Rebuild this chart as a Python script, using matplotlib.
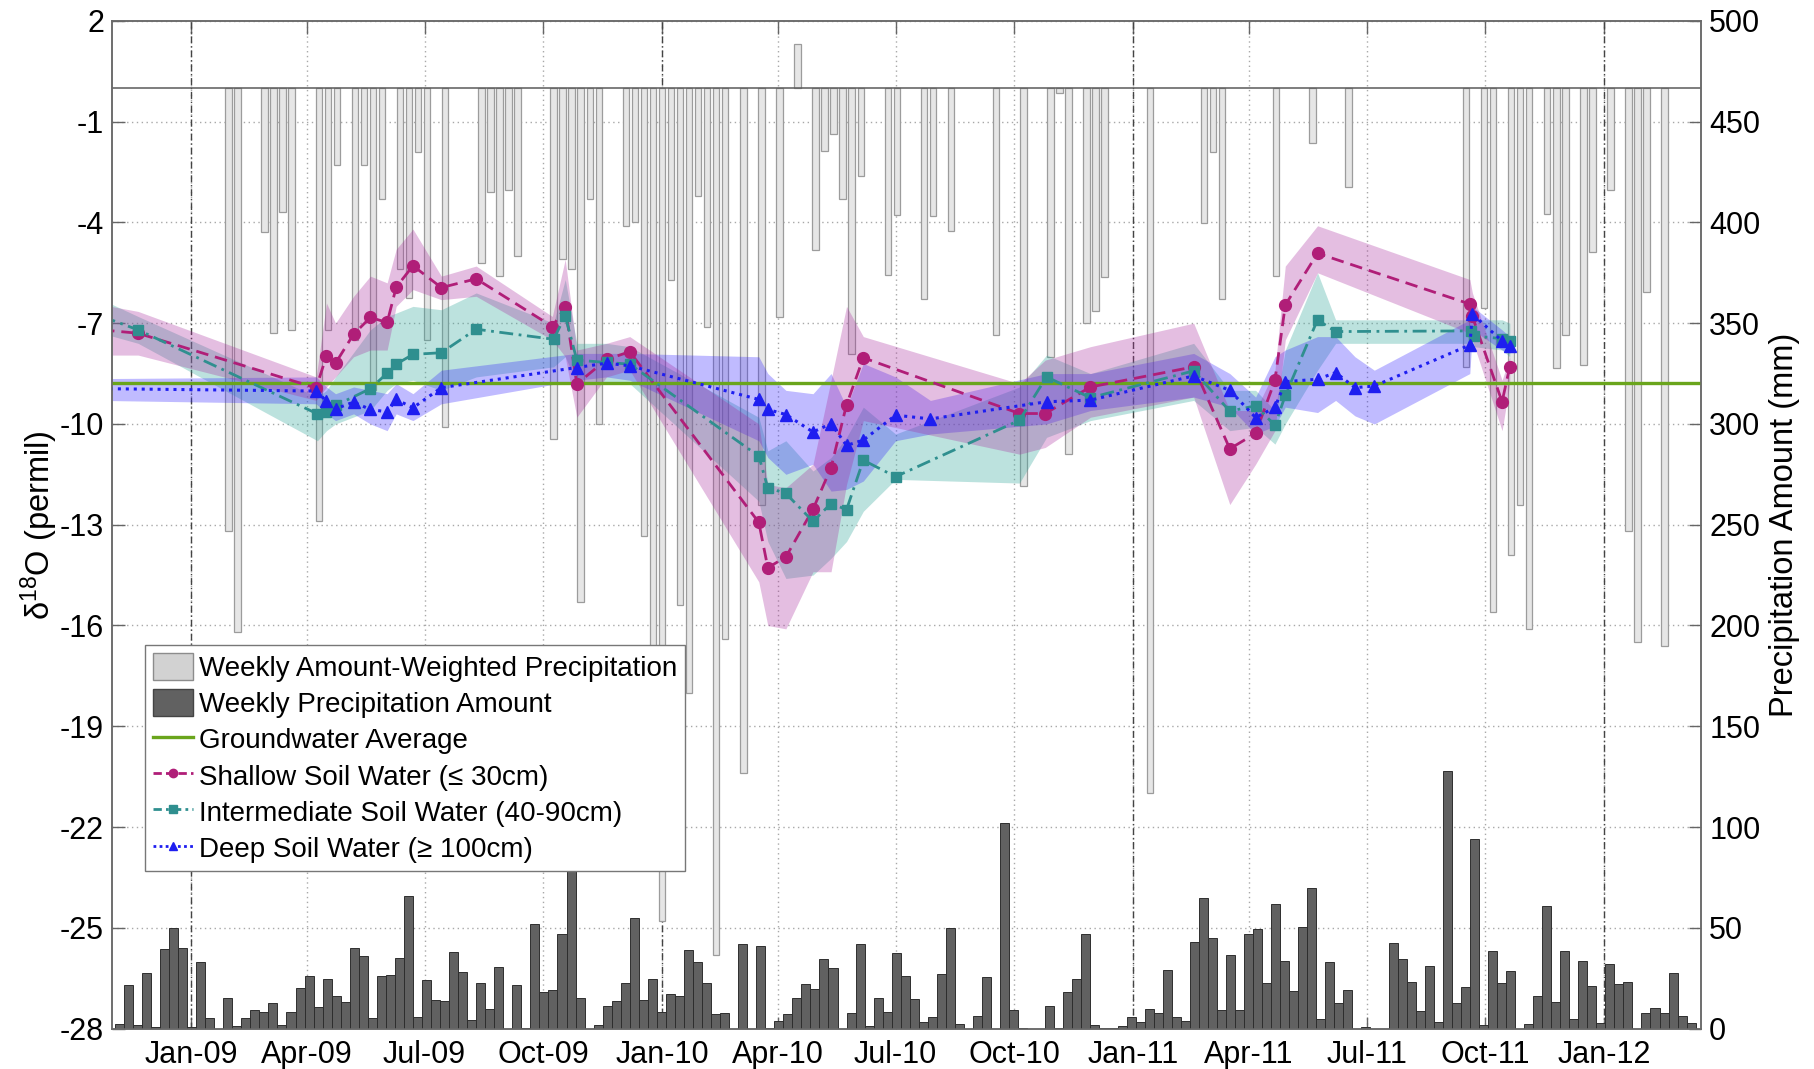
import numpy as np
import pandas as pd
import matplotlib
matplotlib.use('Agg')
import matplotlib.pyplot as plt
import matplotlib.dates as mdates
from matplotlib.patches import Patch
from matplotlib.lines import Line2D

plt.rcParams['font.family'] = ['Liberation Sans', 'DejaVu Sans']
plt.rcParams['axes.unicode_minus'] = False
plt.rcParams['mathtext.default'] = 'regular'

# ---------------- data ----------------
week_start = '2008-11-03'
precip_mm = [2.5, 21.5, 1.7, 27.6, 1, 39.7, 50, 40, 1, 33, 5.3, 0, 15, 1.3, 5.3, 9, 8, 12.7, 1.7, 8,
             20, 26, 10.6, 24.7, 16, 13, 40, 36, 5.5, 26, 26.8, 35, 66, 5.8, 24.3, 14.4, 13.6, 38, 28, 4.5,
             22.8, 9.6, 30.5, 0, 21.8, 0.5, 52, 18, 19, 47, 80, 15, 0, 2, 11.4, 13.6, 22.7, 55, 14.4, 24.8,
             8, 17.4, 16, 39, 33, 22.5, 7, 7.5, 0, 42, 0, 41, 0.3, 3.8, 7, 15, 22, 19.5, 34.6, 30,
             0, 7.8, 42, 1.2, 15, 8, 37.6, 26, 14.6, 3.3, 5.6, 27, 50, 2.3, 0, 6, 25.5, 0, 102, 9,
             0.5, 0, 0, 11, 0.3, 18, 24.7, 47, 1.7, 0.3, 0.3, 1.3, 5.6, 3.3, 9.8, 7.8, 29, 5.8, 3.8, 43,
             65, 45, 9, 36.4, 9, 47, 49.5, 22.4, 62, 33.4, 18.5, 50.5, 70, 4.8, 32.8, 12.7, 19.2, 0, 0.8, 0,
             0, 42.7, 34.3, 23.2, 8.8, 31, 3.3, 128, 12.7, 20.7, 94, 2, 38.6, 22.8, 28.6, 0, 2.3, 16, 61, 13.2,
             38.6, 4.6, 33.3, 21.2, 2.6, 32, 22.2, 23.2, 0, 7.5, 10, 7.8, 27.8, 6.1, 2.8]

gray_week = [13, 14, 17, 18, 19, 20, 23, 24, 25, 27, 28, 29, 30, 32, 33, 34, 35, 37, 41, 42,
             43, 44, 45, 49, 50, 51, 52, 53, 54, 57, 58, 59, 60, 61, 62, 63, 64, 65, 66, 67,
             68, 70, 72, 74, 76, 78, 79, 80, 81, 82, 83, 86, 87, 90, 91, 93, 98, 101, 104, 105,
             106, 108, 109, 110, 115, 121, 122, 123, 129, 133, 137, 150, 152, 153, 155, 156, 157, 159, 160, 161,
             163, 164, 166, 168, 169, 170, 172]
gray_d18o = [-13.2, -16.2, -4.3, -7.3, -3.7, -7.2, -12.9, -7.2, -2.3, -7.5, -2.3, -9.0, -3.3, -5.4, -6.25, -1.9, -7.5, -10.1, -5.2, -3.1,
             -5.6, -3.05, -5.0, -10.45, -5.1, -5.4, -15.3, -3.3, -10.0, -4.1, -4.0, -13.35, -17.5, -24.8, -5.7, -15.4, -18.0, -3.2, -7.1, -25.8,
             -16.4, -20.4, -12.4, -6.83, 1.3, -4.82, -1.88, -1.38, -3.29, -7.93, -2.63, -5.57, -3.77, -6.29, -3.8, -4.27, -7.34, -11.84, -8.0, -0.15,
             -10.9, -7.0, -6.64, -5.64, -21.0, -4.03, -1.91, -6.29, -5.6, -1.63, -2.96, -8.3, -6.55, -15.6, -13.9, -12.4, -16.1, -3.76, -8.33, -7.35,
             -8.24, -4.87, -3.04, -13.2, -16.5, -6.08, -16.6]

shallow_dates = ['2008-10-24', '2008-11-21', '2009-04-08', '2009-04-16', '2009-04-23', '2009-05-07', '2009-05-20',
                 '2009-06-02', '2009-06-09', '2009-06-22', '2009-07-14', '2009-08-10', '2009-10-08', '2009-10-18',
                 '2009-10-27', '2009-11-19', '2009-12-07', '2010-03-17', '2010-03-24', '2010-04-07', '2010-04-28',
                 '2010-05-12', '2010-05-24', '2010-06-06', '2010-10-05', '2010-10-25', '2010-11-29', '2011-02-17',
                 '2011-03-17', '2011-04-06', '2011-04-21', '2011-04-29', '2011-05-24', '2011-09-19', '2011-09-21',
                 '2011-10-14', '2011-10-20']
shallow_val = [-7.2, -7.30, -8.93, -7.97, -8.19, -7.33, -6.83, -6.98, -5.93, -5.29, -5.94, -5.68, -7.10, -6.53,
               -8.81, -8.08, -7.85, -12.93, -14.28, -13.96, -12.54, -11.3, -9.43, -8.03, -9.69, -9.69, -8.9, -8.3,
               -10.74, -10.28, -8.70, -6.46, -4.92, -6.43, -6.80, -9.34, -8.29]
shallow_hi = [-6.45, -6.65, -8.6, -6.4, -7.0, -6.2, -5.6, -5.8, -4.8, -4.2, -5.6, -5.3, -6.8, -5.1,
              -7.8, -7.6, -7.4, -10.0, -11.8, -11.9, -11.2, -8.7, -6.5, -7.4, -8.8, -8.1, -7.7, -7.0,
              -9.6, -9.6, -8.4, -5.3, -4.1, -5.7, -6.1, -8.7, -8.0]
shallow_lo = [-7.95, -7.95, -9.3, -8.9, -8.6, -8.0, -7.8, -7.8, -6.5, -6.0, -6.3, -6.2, -7.5, -8.0,
              -9.8, -8.6, -8.4, -14.7, -16.0, -16.1, -14.4, -14.4, -11.8, -9.9, -10.9, -10.7, -9.8, -9.2,
              -12.4, -11.2, -10.2, -7.5, -5.5, -7.3, -7.5, -10.2, -8.8]

inter_dates = ['2008-10-24', '2008-11-21', '2009-04-09', '2009-04-16', '2009-04-23', '2009-05-20', '2009-06-02',
               '2009-06-09', '2009-06-22', '2009-07-14', '2009-08-10', '2009-10-09', '2009-10-18', '2009-10-27',
               '2009-11-19', '2009-12-07', '2010-03-17', '2010-03-24', '2010-04-07', '2010-04-28', '2010-05-12',
               '2010-05-24', '2010-06-06', '2010-07-01', '2010-10-05', '2010-10-26', '2010-11-29', '2011-02-17',
               '2011-03-17', '2011-04-06', '2011-04-21', '2011-04-29', '2011-05-24', '2011-06-07', '2011-09-20',
               '2011-09-22', '2011-10-14', '2011-10-20']
inter_val = [-6.8, -7.2, -9.70, -9.64, -9.45, -8.95, -8.49, -8.22, -7.93, -7.88, -7.18, -7.48, -6.78, -8.10,
             -8.17, -8.22, -10.96, -11.9, -12.07, -12.9, -12.37, -12.55, -11.08, -11.57, -9.89, -8.6, -9.22, -8.42,
             -9.62, -9.46, -10.04, -9.15, -6.9, -7.25, -7.23, -7.38, -7.46, -7.53]
inter_hi = [-6.3, -6.8, -9.2, -9.0, -8.6, -7.2, -6.8, -6.7, -6.5, -6.6, -6.1, -7.0, -5.7, -7.6,
            -7.6, -7.7, -9.8, -10.8, -10.5, -11.4, -11.0, -10.4, -9.5, -10.3, -8.9, -7.95, -8.5, -7.6,
            -9.0, -9.0, -9.6, -7.8, -5.5, -6.9, -6.9, -6.9, -6.9, -7.0]
inter_lo = [-7.3, -7.6, -10.5, -10.2, -10.0, -9.6, -9.0, -8.8, -8.7, -9.0, -8.6, -8.3, -8.0, -8.8,
            -8.8, -8.8, -12.3, -13.5, -14.6, -14.5, -14.0, -13.5, -12.6, -11.65, -11.76, -10.4, -9.9, -9.3,
            -10.2, -10.1, -10.6, -10.0, -8.4, -7.6, -7.6, -7.7, -7.8, -8.0]

deep_dates = ['2008-10-24', '2009-04-08', '2009-04-16', '2009-04-23', '2009-05-07', '2009-05-20', '2009-06-02',
              '2009-06-09', '2009-06-22', '2009-07-14', '2009-10-27', '2009-11-19', '2009-12-07', '2010-03-17',
              '2010-03-24', '2010-04-07', '2010-04-28', '2010-05-12', '2010-05-24', '2010-06-06', '2010-07-01',
              '2010-07-28', '2010-10-26', '2010-11-29', '2011-02-17', '2011-03-17', '2011-04-06', '2011-04-21',
              '2011-04-29', '2011-05-24', '2011-06-07', '2011-06-22', '2011-07-07', '2011-09-19', '2011-09-21',
              '2011-10-14', '2011-10-20']
deep_val = [-8.95, -9.02, -9.32, -9.55, -9.35, -9.57, -9.64, -9.27, -9.52, -8.92, -8.32, -8.19, -8.27, -9.27,
            -9.57, -9.72, -10.24, -9.99, -10.64, -10.48, -9.74, -9.85, -9.34, -9.29, -8.57, -9.0, -9.81, -9.51,
            -8.74, -8.67, -8.47, -8.92, -8.87, -7.65, -6.73, -7.53, -7.67]
deep_hi = [-8.65, -8.6, -8.9, -9.1, -8.9, -9.0, -9.1, -8.8, -9.1, -8.4, -7.9, -7.9, -7.9, -8.0,
           -8.5, -9.0, -9.1, -8.5, -9.5, -8.2, -8.6, -9.3, -8.5, -8.5, -7.9, -8.5, -9.2, -8.0,
           -7.8, -7.4, -7.4, -8.0, -8.4, -6.9, -6.5, -7.2, -7.4]
deep_lo = [-9.3, -9.4, -9.7, -9.9, -9.7, -10.0, -10.2, -9.7, -9.9, -9.4, -8.7, -8.6, -8.7, -10.5,
           -11.0, -11.5, -11.2, -12.0, -11.95, -11.7, -10.5, -10.3, -10.0, -9.6, -9.2, -9.5, -10.3, -10.06,
           -9.5, -9.66, -9.3, -9.76, -10.0, -8.5, -7.2, -7.8, -7.9]

groundwater_avg = -8.77

labels = ['Weekly Amount-Weighted Precipitation', 'Weekly Precipitation Amount', 'Groundwater Average',
          'Shallow Soil Water (\u2264 30cm)', 'Intermediate Soil Water (40-90cm)', 'Deep Soil Water (\u2265 100cm)']

# ---------------- figure ----------------
fig = plt.figure(figsize=(18.14, 10.69), dpi=100)
ax = fig.add_axes([0.0619, 0.0378, 0.8757, 0.9427])
ax2 = ax.twinx()

t0 = pd.Timestamp(week_start)
week_left = [t0 + pd.Timedelta(days=7 * i) for i in range(len(precip_mm))]
gray_x = [t0 + pd.Timedelta(days=7 * (k - 1) + 4.0) for k in gray_week]

xmin, xmax = pd.Timestamp('2008-11-01'), pd.Timestamp('2012-03-16')

# gray isotope bars (left axis), hanging from 0
ax.bar(gray_x, gray_d18o, width=5.0, color='#e6e6e6', edgecolor='#9c9c9c', linewidth=0.9, zorder=1.5)
ax.axhline(0, color='#5a5a5a', lw=1.1, zorder=1.6)

# year lines
for yr in [2009, 2010, 2011, 2012]:
    ax.axvline(pd.Timestamp(f'{yr}-01-01'), color='#444444', lw=1.0, ls=(0, (5, 2, 1, 2)), zorder=1.2)

# bands
pink_c, teal_c, blue_c = '#b01e78', '#2f8f8f', '#1e1ef0'
sd = pd.to_datetime(shallow_dates)
idt = pd.to_datetime(inter_dates)
dd = pd.to_datetime(deep_dates)
ax.fill_between(idt, inter_lo, inter_hi, color='#36a89c', alpha=0.33, lw=0, zorder=2)
ax.fill_between(dd, deep_lo, deep_hi, color='#3020ff', alpha=0.30, lw=0, zorder=2)
ax.fill_between(sd, shallow_lo, shallow_hi, color='#a8299c', alpha=0.30, lw=0, zorder=2)

ax.axhline(groundwater_avg, color='#6aa51c', lw=2.4, zorder=3)

ax.plot(sd, shallow_val, color=pink_c, ls=(0, (4.5, 2.5)), lw=2.0, marker='o', ms=8.5, zorder=5)
ax.plot(idt, inter_val, color=teal_c, ls=(0, (5, 2, 1, 2)), lw=2.0, marker='s', ms=7.5, zorder=5)
ax.plot(dd, deep_val, color=blue_c, ls=(0, (1, 1.6)), lw=2.2, marker='^', ms=8.5, zorder=5)

# dark precipitation bars (right axis)
ax2.bar(week_left, precip_mm, width=7.0, align='edge', color='#616161', edgecolor='#2e2e2e', linewidth=0.7, zorder=2)

# axes setup
ax.set_xlim(xmin, xmax)
ax.set_ylim(-28, 2)
ax2.set_ylim(0, 500)
ax.set_yticks(np.arange(-28, 3, 3))
ax.set_yticklabels([str(v) for v in np.arange(-28, 3, 3)])
ax2.set_yticks(np.arange(0, 501, 50))
ax.xaxis.set_major_locator(mdates.MonthLocator(bymonth=[1, 4, 7, 10]))
ax.xaxis.set_major_formatter(mdates.DateFormatter('%b-%y'))

ax.grid(True, ls=(0, (1, 2.5)), color='#a8a8a8', lw=1.0, zorder=0)
ax.set_axisbelow(True)
ax.tick_params(axis='both', direction='in', length=9, width=1.0, color='#666666', labelsize=22, pad=6)
ax.tick_params(axis='x', top=True, pad=8)
ax.tick_params(axis='y', right=False)
ax2.tick_params(axis='y', direction='in', length=9, width=1.0, color='#666666', labelsize=22, pad=6)
for a in (ax, ax2):
    for s in a.spines.values():
        s.set_color('#6a6a6a')
        s.set_linewidth(1.1)

ax.set_ylabel('\u03b4$^{18}$O (permil)', fontsize=23.5, labelpad=0)
ax2.set_ylabel('Precipitation Amount (mm)', fontsize=23.5, labelpad=6)

handles = [Patch(facecolor='#d2d2d2', edgecolor='#8c8c8c', lw=1.0),
           Patch(facecolor='#616161', edgecolor='#444444', lw=1.0),
           Line2D([], [], color='#6aa51c', lw=2.4),
           Line2D([], [], color=pink_c, ls=(0, (3, 1.5)), lw=2, marker='o', ms=6),
           Line2D([], [], color=teal_c, ls=(0, (3, 1.5, 1, 1.5)), lw=2, marker='s', ms=5.5),
           Line2D([], [], color=blue_c, ls=(0, (1, 1.2)), lw=2, marker='^', ms=6)]
leg = ax2.legend(handles, labels, loc='upper left', bbox_to_anchor=(0.0204, 0.381), borderaxespad=0,
                 fontsize=20, frameon=True, fancybox=False, framealpha=1, edgecolor='#777777',
                 handlelength=1.45, handleheight=1.1, handletextpad=0.2, borderpad=0.3, labelspacing=0.27)
leg.get_frame().set_linewidth(1.0)
leg.set_zorder(20)

fig.savefig('out.png', dpi=100)
